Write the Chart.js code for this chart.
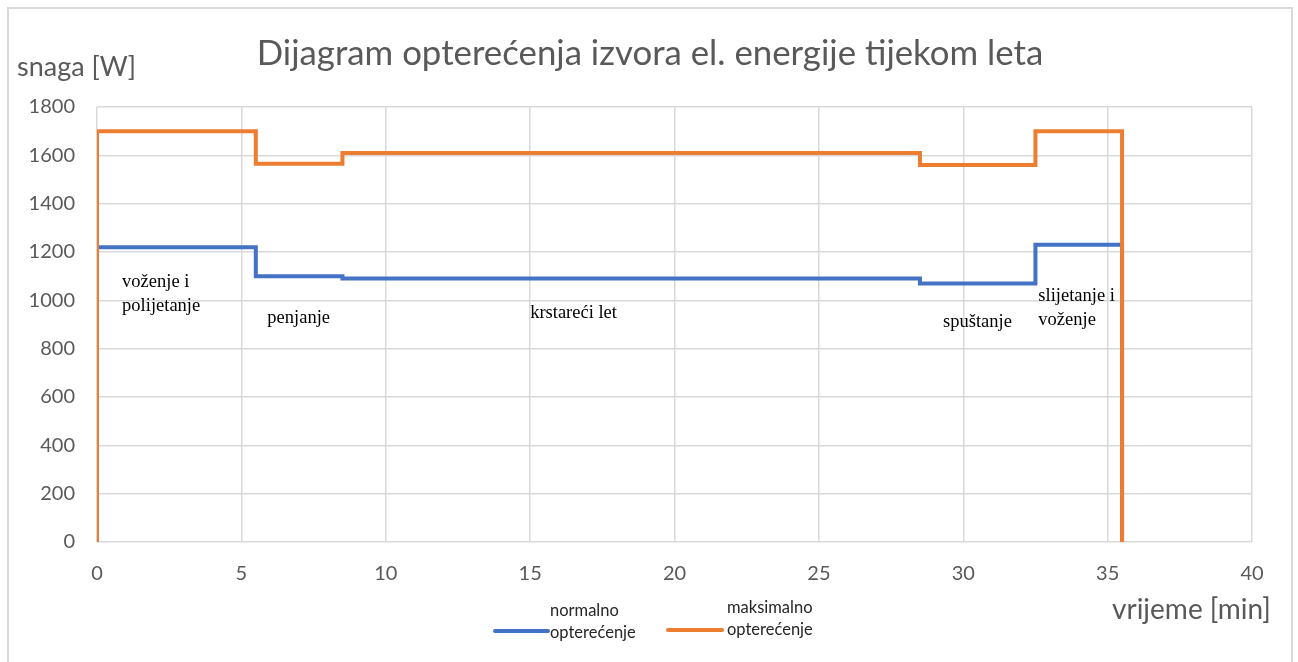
<!DOCTYPE html>
<html>
<head>
<meta charset="utf-8">
<script src="https://cdn.jsdelivr.net/npm/chart.js@4.4.1/dist/chart.umd.min.js"></script>
<style>
  html, body { margin: 0; padding: 0; background: #fff; }
  #wrap { width: 1298px; height: 662px; }
</style>
</head>
<body>
<div id="wrap"><canvas id="load-chart" width="1298" height="662"></canvas></div>
<script>
// step start times [min] and power levels [W]
const stepTimes = [0, 0, 5.5, 8.5, 28.5, 32.5, 35.5];
const normalLoad = [0, 1220, 1100, 1090, 1070, 1230, 0];
const maxLoad = [0, 1700, 1565, 1610, 1560, 1700, 0];

const seriesNames = [['normalno', 'opterećenje'], ['maksimalno', 'opterećenje']];

// flight phase notes, anchored in data units (min, W)
const phaseNames = [['voženje i', 'polijetanje'], ['penjanje'], ['krstareći let'], ['spuštanje'], ['slijetanje i', 'voženje']];
const phaseAtTime = [0.87, 5.9, 15.0, 29.3, 32.6];
const phaseAtPower = [1076, 927, 947, 910, 1018];

const chartTitle = 'Dijagram opterećenja izvora el. energije tijekom leta';
const yTitle = 'snaga [W]';
const xTitle = 'vrijeme [min]';

function toPoints(ys) {
    return stepTimes.map((t, i) => ({ x: t, y: ys[i] }));
}

const textColor = '#595959';

const extras = {
    id: 'extras',
    beforeDraw(chart) {
        const c = chart.ctx;
        c.save();
        c.strokeStyle = '#d9d9d9';
        c.lineWidth = 2;
        c.strokeRect(8, 8, 1284, 720);
        c.restore();
    },
    afterDatasetsDraw(chart) {
        const c = chart.ctx;
        const xs = chart.scales.x, ys = chart.scales.y;
        c.save();
        c.fillStyle = '#000';
        c.font = '18.5px "Liberation Serif", "DejaVu Serif", serif';
        c.textAlign = 'left';
        c.textBaseline = 'middle';
        phaseNames.forEach((lines, i) => {
            const px = xs.getPixelForValue(phaseAtTime[i]);
            const py = ys.getPixelForValue(phaseAtPower[i]);
            lines.forEach((ln, k) => c.fillText(ln, px, py + k * 24));
        });
        c.restore();
    },
    afterDraw(chart) {
        const c = chart.ctx;
        c.save();
        c.fillStyle = textColor;
        c.textBaseline = 'middle';
        c.textAlign = 'center';
        c.font = '34.8px Lato, "Open Sans", sans-serif';
        c.fillText(chartTitle, 650, 54);
        c.textAlign = 'left';
        c.font = '27px Lato, "Open Sans", sans-serif';
        c.fillText(yTitle, 17, 67);
        c.font = '28px Lato, "Open Sans", sans-serif';
        c.fillText(xTitle, 1112, 610);

        // legend
        const ds = chart.data.datasets;
        const items = [
            { line: [495, 548, 631], text: [550, 611], ds: ds[0], names: seriesNames[0] },
            { line: [668, 722, 630], text: [727, 608], ds: ds[1], names: seriesNames[1] }
        ];
        c.font = '16.5px Lato, "Open Sans", sans-serif';
        items.forEach(it => {
            c.strokeStyle = it.ds.borderColor;
            c.lineWidth = 4;
            c.lineCap = 'round';
            c.beginPath();
            c.moveTo(it.line[0], it.line[2]);
            c.lineTo(it.line[1], it.line[2]);
            c.stroke();
            c.fillStyle = '#262626';
            it.names.forEach((n, k) => c.fillText(n, it.text[0], it.text[1] + k * 22));
        });
        c.restore();
    }
};

const ctx = document.getElementById('load-chart').getContext('2d');
const chart = new Chart(ctx, {
    type: 'line',
    data: {
        datasets: [
            {
                label: 'normalno opterećenje',
                data: toPoints(normalLoad),
                borderColor: '#4472c4',
                borderWidth: 4,
                stepped: 'before',
                pointRadius: 0,
                fill: false,
                order: 1
            },
            {
                label: 'maksimalno opterećenje',
                data: toPoints(maxLoad),
                borderColor: '#ed7d31',
                borderWidth: 4,
                stepped: 'before',
                pointRadius: 0,
                fill: false,
                order: 0
            }
        ]
    },
    options: {
        responsive: false,
        animation: false,
        layout: { padding: { top: 107, left: 0, right: 46, bottom: 0 } },
        plugins: {
            legend: { display: false },
            title: { display: false },
            tooltip: { enabled: false }
        },
        scales: {
            x: {
                type: 'linear',
                min: 0,
                max: 40,
                ticks: { stepSize: 5, color: textColor, padding: 20, font: { family: 'Lato', size: 20 } },
                grid: { color: '#d9d9d9', lineWidth: 1.5, drawTicks: false },
                border: { display: false },
                afterFit: s => { s.height = 120; }
            },
            y: {
                type: 'linear',
                min: 0,
                max: 1800,
                ticks: {
                    stepSize: 200, color: textColor, padding: 22, font: { family: 'Lato', size: 20 },
                    callback: v => String(v)
                },
                grid: { color: '#d9d9d9', lineWidth: 1.5, drawTicks: false },
                border: { display: false },
                afterFit: s => { s.width = 97; }
            }
        }
    },
    plugins: [extras]
});
</script>
</body>
</html>
